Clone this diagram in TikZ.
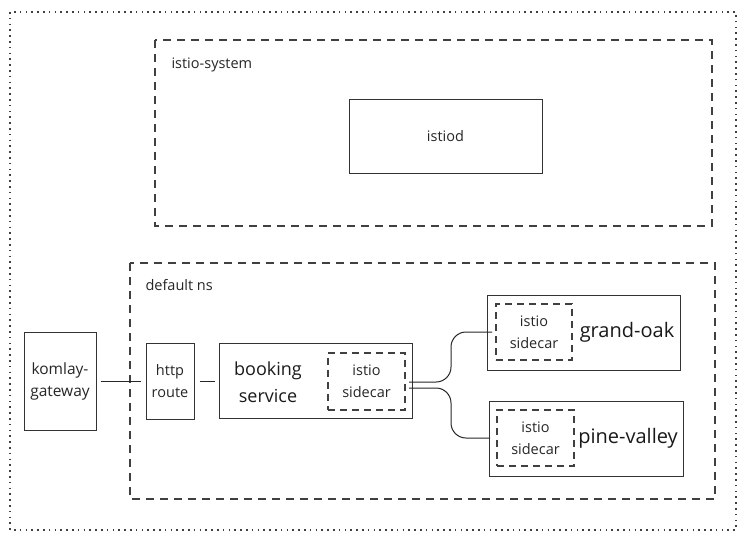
\documentclass[tikz,border=0pt]{standalone}
\usepackage{fontspec}
\setmainfont{Open Sans}
\begin{document}
\begin{tikzpicture}[x=1pt,y=-1pt,
  box/.style={draw=black!80,line width=1pt,inner sep=0pt},
  dbox/.style={draw=black!75,line width=1.1pt,dash pattern=on 8pt off 6pt},
  sc/.style={draw=black!75,line width=1.1pt,dash pattern=on 7pt off 5pt,inner sep=0pt,font=\fontsize{14.5}{22}\selectfont,align=center,text=black!85},
  conn/.style={draw=black!85,line width=1pt},
  sm/.style={font=\fontsize{14.5}{21}\selectfont,align=center,text=black!85},
  big/.style={font=\fontsize{20}{27}\selectfont,align=center,text=black!90}]
\useasboundingbox (0,0) rectangle (746,541);
\draw[black!75,line width=1.3pt,dash pattern=on 1.6pt off 4.2pt] (10,12) rectangle (736,530);
% istio-system
\draw[dbox] (155,40) rectangle (712,226);
\node[sm,anchor=west] (lsys) at (168,65) {istio-system};
\node[box,minimum width=193pt,minimum height=74pt,sm] (istiod) at (445.5,136) {istiod};
% default ns
\draw[dbox] (130,263) rectangle (715,499);
\node[sm,anchor=west] (lns) at (142,285) {default ns};
\node[box,minimum width=72pt,minimum height=98pt,font=\fontsize{15.5}{22}\selectfont,align=center,text=black!85] (gw) at (60,381) {komlay-\\gateway};
\node[box,minimum width=48pt,minimum height=76pt,font=\fontsize{14.5}{22}\selectfont,align=center,text=black!85] (http) at (170,381) {http\\route};
\node[box,minimum width=193pt,minimum height=75pt] (book) at (316,381) {};
\node[big,font=\fontsize{18}{27}\selectfont,anchor=center] (booktxt) at (268,382) {booking\\service};
\node[sc,minimum width=77pt,minimum height=57pt] (sc1) at (366.5,381.5) {istio\\sidecar};
% grand-oak
\node[box,minimum width=193pt,minimum height=75pt] (go) at (584,332.5) {};
\node[sc,minimum width=76pt,minimum height=56pt] (sc2) at (534,332) {istio\\sidecar};
\node[big] (gotxt) at (627,332) {grand-oak};
% pine-valley
\node[box,minimum width=194pt,minimum height=75pt] (pv) at (586,439) {};
\node[sc,minimum width=77pt,minimum height=56pt] (sc3) at (535.5,438) {istio\\sidecar};
\node[big] (pvtxt) at (628,438) {pine-valley};
% connectors
\draw[conn,shorten <=4pt,shorten >=5pt] (gw.east) -- (http.west);
\draw[conn,shorten <=5pt,shorten >=4.5pt] (http.east) -- (book.west);
\coordinate (s1) at (409,382);
\coordinate (s2) at (409,388);
\coordinate (e1) at (492,332);
\coordinate (e2) at (490,438);
\draw[conn,rounded corners=15pt] (s1) -- (451,382) -- (451,332) -- (e1);
\draw[conn,rounded corners=15pt] (s2) -- (451,388) -- (451,438) -- (e2);
\end{tikzpicture}
\end{document}
